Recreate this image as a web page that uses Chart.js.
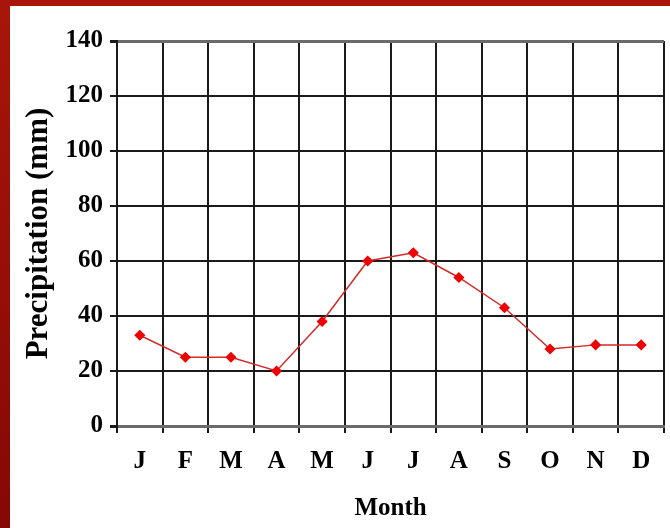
<!DOCTYPE html>
<html>
<head>
<meta charset="utf-8">
<script src="https://cdn.jsdelivr.net/npm/chart.js@4/dist/chart.umd.min.js"></script>
<style>
    html, body { margin: 0; padding: 0; }
    body {
        width: 670px; height: 528px; overflow: hidden;
        background: linear-gradient(to bottom, #a8150b, #860804);
    }
    #frame {
        position: absolute; left: 10px; top: 6px;
        width: 660px; height: 522px; background: #fff;
    }
</style>
</head>
<body>
<div id="frame"><canvas id="chart" width="660" height="522"></canvas></div>
<script>
// ----- DATA ----- //
const months = ['J', 'F', 'M', 'A', 'M', 'J', 'J', 'A', 'S', 'O', 'N', 'D'];
const precipitation = [33, 25, 25, 20, 38, 60, 63, 54, 43, 28, 29.5, 29.5];
const yTicks = [0, 20, 40, 60, 80, 100, 120, 140];

const serif = '"Liberation Serif", "Times New Roman", serif';
const edgeLine = v => v === yTicks[0] || v === yTicks[yTicks.length - 1];

document.addEventListener('DOMContentLoaded', function() {
    const ctx = document.getElementById('chart').getContext('2d');
    new Chart(ctx, {
        type: 'line',
        data: {
            labels: months,
            datasets: [{
                data: precipitation,
                borderColor: '#d42a2a',
                borderWidth: 1.5,
                pointStyle: 'rectRot',
                pointRadius: 4.5,
                pointBackgroundColor: '#ee0000',
                pointBorderColor: '#ee0000',
                tension: 0
            }]
        },
        options: {
            responsive: false,
            animation: false,
            layout: { padding: { top: 35, right: 2, left: 0, bottom: 0 } },
            plugins: { legend: { display: false }, tooltip: { enabled: false } },
            scales: {
                x: {
                    offset: true,
                    grid: { offset: true, color: '#1a1a1a', lineWidth: 2, tickLength: 7 },
                    border: { color: '#6a6a6a', width: 3 },
                    ticks: { color: '#000', padding: 14, font: { family: serif, size: 25, weight: 'bold' } },
                    title: {
                        display: true, text: 'Month', color: '#000',
                        padding: { top: 0, bottom: 4 },
                        font: { family: serif, size: 25, weight: 'bold' }
                    },
                    afterFit: scale => { scale.height = 102; }
                },
                y: {
                    min: 0, max: 140,
                    afterBuildTicks: scale => { scale.ticks = yTicks.map(v => ({ value: v })); },
                    grid: {
                        color: c => edgeLine(c.tick.value) ? '#6a6a6a' : '#1a1a1a',
                        lineWidth: c => edgeLine(c.tick.value) ? 3 : 2,
                        tickColor: '#1a1a1a',
                        tickLength: 7
                    },
                    border: { color: '#1a1a1a', width: 2 },
                    ticks: { color: '#000', padding: 7, font: { family: serif, size: 25, weight: 'bold' } },
                    title: {
                        display: true, text: 'Precipitation (mm)', color: '#000',
                        padding: { top: 10, bottom: 0 },
                        font: { family: serif, size: 31, weight: 'bold' }
                    },
                    afterFit: scale => { scale.width = 107; }
                }
            }
        }
    });
});
</script>
</body>
</html>
